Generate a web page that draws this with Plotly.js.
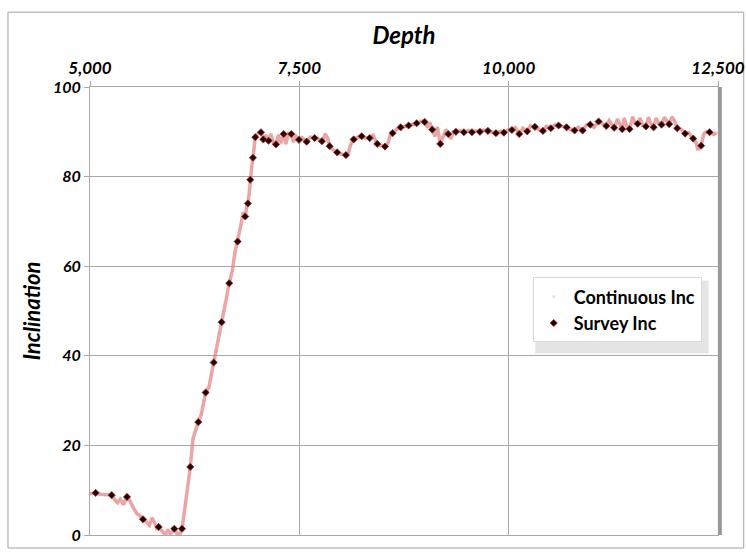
<!DOCTYPE html>
<html>
<head>
<meta charset="utf-8">
<script src="https://cdn.plot.ly/plotly-3.0.1.min.js"></script>
<style>
html,body{margin:0;padding:0;background:#fff;}
#chart{width:746px;height:552px;}
</style>
</head>
<body>
<div id="chart"></div>
<script>
// Survey Inc (discrete survey stations)
const surveyDepth = [5068,5259,5442,5633,5820,6007,6099,6198,6293,6381,6477,6572,6663,6763,6854,6886,6914,6946,6974,7042,7070,7133,7221,7313,7404,7496,7587,7683,7770,7862,7953,8057,8149,8244,8340,8431,8523,8614,8710,8805,8901,8997,9088,9183,9278,9370,9465,9561,9657,9752,9848,9943,10039,10126,10222,10313,10409,10504,10596,10692,10787,10883,10974,11074,11165,11260,11356,11444,11540,11639,11731,11826,11917,12013,12108,12204,12299,12399];
const surveyInc = [9.4,8.9,8.5,3.5,1.8,1.4,1.4,15.2,25.2,31.8,38.5,47.5,56.2,65.5,71.1,74.0,79.3,84.2,88.8,89.9,88.3,88.0,87.2,89.5,89.5,88.2,87.8,88.6,87.9,86.8,85.4,84.8,88.3,89.0,88.6,87.3,86.7,89.7,91.0,91.4,91.9,92.2,90.5,87.3,89.5,90.0,89.9,89.9,90.0,90.2,89.7,89.8,90.4,89.5,90.1,91.1,90.2,90.8,91.4,91.0,90.3,90.3,91.6,92.3,91.3,90.9,90.6,90.6,91.8,91.2,91.0,91.6,91.7,90.8,89.6,88.5,86.9,89.9];

// Continuous Inc (high-rate measurement)
const contDepth = [5000,5060,5120,5180,5259,5300,5330,5360,5400,5442,5480,5520,5560,5600,5633,5670,5710,5740,5770,5800,5820,5860,5900,5930,5960,6007,6040,6070,6099,6140,6198,6230,6260,6293,6330,6360,6381,6420,6450,6477,6510,6540,6572,6600,6630,6663,6700,6730,6763,6800,6830,6854,6870,6886,6900,6914,6930,6946,6960,6974,7000,7042,7070,7100,7133,7160,7190,7221,7250,7280,7313,7340,7370,7404,7430,7460,7496,7530,7587,7630,7683,7720,7770,7810,7840,7862,7900,7953,8000,8057,8090,8110,8149,8200,8244,8290,8340,8380,8431,8470,8523,8560,8580,8614,8660,8710,8760,8805,8850,8896,8950,8997,9030,9060,9088,9120,9150,9183,9220,9250,9278,9310,9340,9370,9420,9465,9520,9561,9610,9657,9700,9752,9800,9848,9900,9943,9990,10039,10080,10126,10170,10222,10260,10313,10360,10409,10450,10504,10550,10596,10640,10692,10740,10787,10830,10883,10930,10974,11020,11074,11120,11165,11200,11230,11260,11300,11330,11356,11380,11410,11444,11480,11510,11540,11570,11600,11639,11670,11700,11731,11760,11790,11826,11860,11890,11917,11950,11980,12013,12060,12108,12150,12204,12240,12260,12299,12330,12360,12399,12450,12480];
const contInc = [9.2,9.4,9.1,9.0,8.9,7.8,7.2,8.0,6.8,8.5,7.5,6.0,4.8,4.2,3.5,3.0,2.2,3.8,2.8,1.2,1.8,1.0,0.0,1.2,0.2,1.4,0.3,0.0,1.4,7.0,15.2,21.5,23.5,25.2,27.0,30.0,31.8,33.0,36.0,38.5,41.0,45.0,47.5,50.0,53.0,56.2,59.0,63.0,65.5,69.0,72.0,71.1,73.0,74.0,76.0,79.3,82.0,84.2,86.0,88.8,89.5,89.9,88.3,89.2,88.0,89.5,87.5,87.2,89.3,87.5,89.5,87.3,89.6,89.5,87.8,89.0,88.2,88.7,87.8,88.8,88.6,88.5,87.9,89.5,88.5,86.8,86.0,85.4,85.0,84.8,85.5,87.0,88.3,88.8,89.0,88.6,88.6,89.2,87.3,87.0,86.7,87.5,89.0,89.7,90.5,91.0,91.2,91.4,91.6,91.8,92.3,92.5,91.0,92.0,90.5,89.0,91.0,87.3,89.0,90.5,89.5,88.5,90.0,90.0,90.2,89.9,90.3,89.9,90.2,90.0,90.4,90.2,90.0,89.7,90.1,89.8,90.4,90.4,90.9,89.5,90.8,90.1,91.3,91.1,90.5,90.2,91.2,90.8,91.5,91.4,91.2,91.0,90.5,90.3,91.0,90.3,91.5,91.6,91.0,92.3,91.8,91.3,92.5,91.5,90.9,92.8,91.5,90.6,93.0,91.3,90.6,93.3,92.0,91.8,93.0,91.5,91.2,93.2,91.8,91.0,93.0,92.0,91.6,93.2,92.4,91.7,93.3,92.5,90.8,90.5,89.6,89.8,88.5,87.5,86.0,86.9,89.5,90.0,89.9,89.4,89.8];

const xTicks = [5000,7500,10000,12500];
const xTickText = ['5,000','7,500','10,000','12,500'];
const yTicks = [0,20,40,60,80,100];

const FONT = 'Lato, "Open Sans", "DejaVu Sans", sans-serif';

const traces = [
  {x: contDepth, y: contInc, type: 'scatter', mode: 'lines', showlegend: false,
   line: {color: 'rgba(222,120,120,0.65)', width: 3.5}, hoverinfo: 'skip'},
  {x: contDepth, y: contInc, type: 'scatter', mode: 'markers', name: 'Continuous Inc',
   marker: {color: 'rgba(230,150,150,0.35)', size: 3}},
  {x: surveyDepth, y: surveyInc, type: 'scatter', mode: 'markers', name: 'Survey Inc',
   marker: {symbol: 'diamond', size: 5.5, color: '#1a0000', line: {color: '#b02020', width: 0.8}}}
];

const layout = {
  width: 746, height: 552,
  margin: {l: 90, r: 28, t: 87, b: 17},
  paper_bgcolor: '#fff', plot_bgcolor: '#fff',
  font: {family: FONT, color: '#000'},
  xaxis: {
    side: 'top', range: [5000, 12500], tickvals: xTicks, ticktext: xTickText,
    tickfont: {family: FONT, size: 17, color: '#000', weight: 'bold', style: 'italic'},
    showgrid: true, gridcolor: '#a8a8a8', gridwidth: 1,
    zeroline: false, showline: true, linecolor: '#a8a8a8', linewidth: 1, mirror: true,
    ticks: 'outside', ticklen: 5, tickcolor: '#a8a8a8',
    title: {text: 'Depth', font: {family: FONT, size: 24, weight: 'bold', style: 'italic', color: '#000'}, standoff: 5}
  },
  yaxis: {
    range: [0, 100], tickvals: yTicks,
    tickfont: {family: FONT, size: 16, color: '#000', weight: 'bold', style: 'italic'},
    showgrid: true, gridcolor: '#a8a8a8', gridwidth: 1,
    zeroline: false, showline: true, linecolor: '#a8a8a8', linewidth: 1, mirror: true,
    ticks: 'outside', ticklen: 5, tickcolor: '#a8a8a8',
    title: {text: 'Inclination', font: {family: FONT, size: 22, weight: 'bold', style: 'italic', color: '#000'}, standoff: 6}
  },
  legend: {
    x: 0.705, y: 0.575, xanchor: 'left', yanchor: 'top',
    bgcolor: '#fff', bordercolor: '#d8d8d8', borderwidth: 1,
    font: {family: FONT, size: 18, weight: 'bold', color: '#000'},
    tracegroupgap: 8
  },
  shapes: [
    {type: 'rect', xref: 'paper', yref: 'paper', x0: -0.1306, x1: 1.041, y0: -0.029, y1: 1.167,
     line: {color: '#a0a0a0', width: 1}, fillcolor: 'rgba(0,0,0,0)', layer: 'below'},
    {type: 'line', xref: 'paper', yref: 'paper', x0: 1.003, x1: 1.003, y0: 0, y1: 1,
     line: {color: '#9a9a9a', width: 4}},
    {type: 'rect', xref: 'paper', yref: 'paper', x0: 0.709, x1: 0.985, y0: 0.405, y1: 0.568,
     line: {width: 0}, fillcolor: 'rgba(150,150,150,0.25)', layer: 'above'}
  ]
};

Plotly.newPlot('chart', traces, layout, {displayModeBar: false, staticPlot: true});
</script>
</body>
</html>
